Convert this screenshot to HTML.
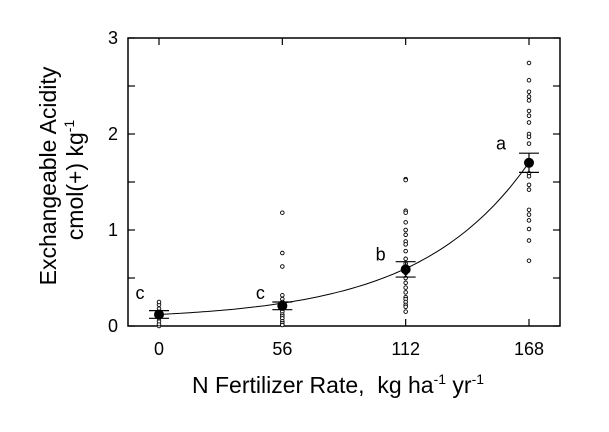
<!DOCTYPE html>
<html><head><meta charset="utf-8"><style>
html,body{margin:0;padding:0;background:#fff;}
svg{display:block;font-family:"Liberation Sans",Arial,sans-serif;}
</style></head><body>
<svg id="chart" width="609" height="432" xmlns="http://www.w3.org/2000/svg"></svg>
<script>
const rates = [0, 56, 112, 168];
const means = [0.12, 0.21, 0.59, 1.70];
const ses = [0.04, 0.04, 0.08, 0.10];
const letters = ["c", "c", "b", "a"];
const letterLevels = [0.28, 0.28, 0.68, 1.84];
const obs0 = [0, 0.02, 0.05, 0.08, 0.1, 0.12, 0.15, 0.18, 0.22, 0.25];
const obs56 = [1.18, 0.76, 0.62, 0.32, 0.28, 0.25, 0.22, 0.18, 0.15, 0.12, 0.1, 0.08, 0.05, 0.03, 0.01];
const obs112 = [1.53, 1.52, 1.2, 1.18, 1.08, 1.0, 0.95, 0.88, 0.85, 0.78, 0.7, 0.65, 0.6, 0.55, 0.5, 0.45, 0.4, 0.35, 0.3, 0.28, 0.25, 0.22, 0.2, 0.15];
const obs168 = [2.74, 2.56, 2.44, 2.39, 2.35, 2.24, 2.19, 2.12, 2.0, 1.97, 1.9, 1.59, 1.56, 1.47, 1.42, 1.21, 1.16, 1.1, 1.01, 0.89, 0.68];
const fitParams = [0.063, 0.057, 0.02];
const yTicks = [0, 1, 2, 3];
const xTickLabels = ["0", "56", "112", "168"];

const NS = "http://www.w3.org/2000/svg";
const svg = document.getElementById("chart");
const L = 128, R = 560, T = 38, B = 326;
const xs = v => 159 + (v / 168) * (529 - 159);
const ys = v => B - (v / 3) * (B - T);
function mk(tag, attrs, parent) {
  const e = document.createElementNS(NS, tag);
  for (const k in attrs) e.setAttribute(k, attrs[k]);
  (parent || svg).appendChild(e);
  return e;
}
const frame = mk("rect", {x: L, y: T, width: R - L, height: B - T, fill: "none", stroke: "#000", "stroke-width": 1.5});


for (let v = 0; v <= 3.001; v += 0.5) {
  const y = ys(v), len = 7;
  const t1 = mk("line", {x1: L, x2: L + len, y1: y, y2: y, stroke: "#000", "stroke-width": 1.2});
  
  
  const t2 = mk("line", {x1: R - len, x2: R, y1: y, y2: y, stroke: "#000", "stroke-width": 1.2});
  
  
}
yTicks.forEach(v => {
  const t = mk("text", {x: 118, y: ys(v) + 6, "text-anchor": "end", "font-size": 18});
  t.textContent = v;
  
  
});
rates.forEach((r, i) => {
  const x = xs(r);
  const a = mk("line", {x1: x, x2: x, y1: B - 7, y2: B, stroke: "#000", "stroke-width": 1.2});
  
  
  const b = mk("line", {x1: x, x2: x, y1: T, y2: T + 7, stroke: "#000", "stroke-width": 1.2});
  
  
  const t = mk("text", {x: x, y: 355, "text-anchor": "middle", "font-size": 18});
  t.textContent = xTickLabels[i];
  
  
});
let d = "";
for (let r = 0; r <= 168; r += 2) {
  const v = fitParams[0] + fitParams[1] * Math.exp(fitParams[2] * r);
  d += (r ? "L" : "M") + xs(r).toFixed(1) + "," + ys(v).toFixed(1);
}
const curve = mk("path", {d: d, fill: "none", stroke: "#000", "stroke-width": 1});


[obs0, obs56, obs112, obs168].forEach((arr, i) => {
  arr.forEach(v => {
    const c = mk("circle", {cx: xs(rates[i]), cy: ys(v), r: 1.8, fill: "#fff", stroke: "#000", "stroke-width": 0.9});
    
    
  });
});
rates.forEach((r, i) => {
  const x = xs(r), m = means[i], s = ses[i];
  [m + s, m - s].forEach(v => {
    const cap = mk("line", {x1: x - 10, x2: x + 10, y1: ys(v), y2: ys(v), stroke: "#000", "stroke-width": 1.2});
    
    
  });
  const vl = mk("line", {x1: x, x2: x, y1: ys(m + s), y2: ys(m - s), stroke: "#000", "stroke-width": 1.2});
  
  
  const c = mk("circle", {cx: x, cy: ys(m), r: 5, fill: "#000"});
  
  
  const t = mk("text", {x: x - 19 - i * 3, y: ys(letterLevels[i]), "text-anchor": "middle", "font-size": 18});
  t.textContent = letters[i];
  
  
});
</script>
<svg style="position:absolute;left:0;top:0" width="609" height="432" xmlns="http://www.w3.org/2000/svg">
  <g font-family="Liberation Sans, Arial, sans-serif" font-size="23">
    <text transform="translate(56,176) rotate(-90)" text-anchor="middle">Exchangeable Acidity</text>
    <text transform="translate(83,180) rotate(-90)" text-anchor="middle">cmol(+) kg<tspan dy="-9" font-size="14">-1</tspan></text>
    <text x="192" y="393" xml:space="preserve">N Fertilizer Rate,  kg ha<tspan dy="-9" font-size="14">-1</tspan><tspan dy="9"> yr</tspan><tspan dy="-9" font-size="14">-1</tspan></text>
  </g>
</svg>
</body></html>
